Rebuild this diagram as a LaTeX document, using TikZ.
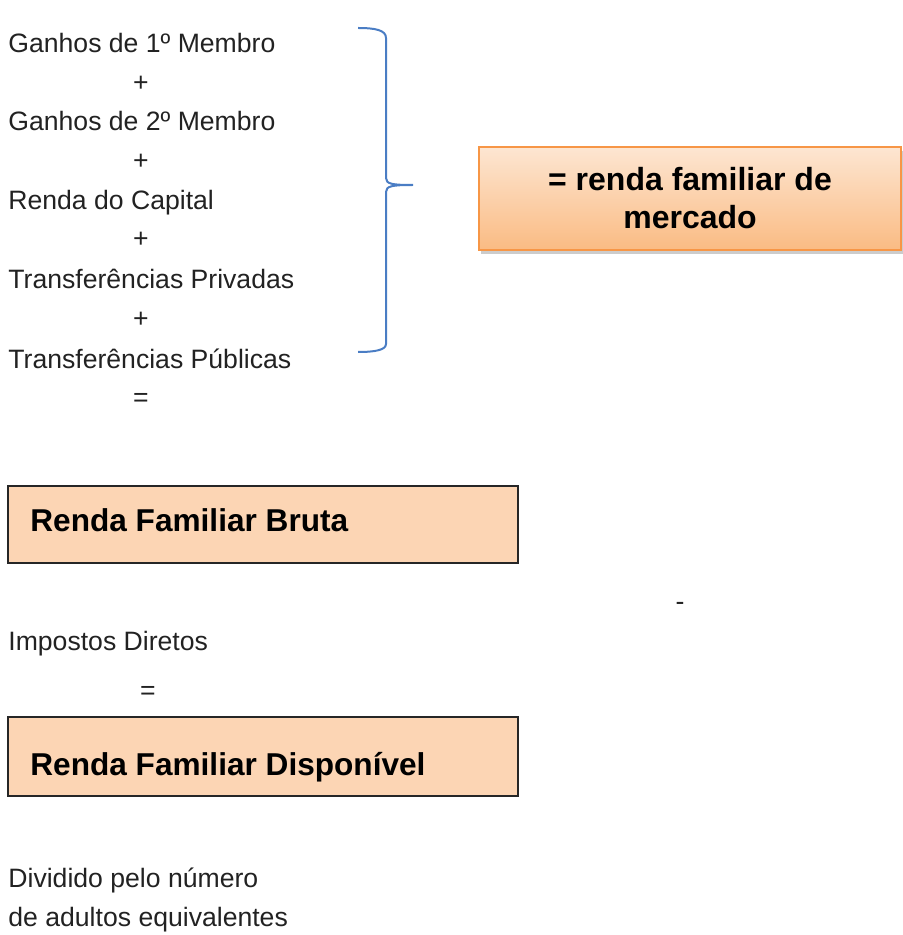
\documentclass[tikz,border=0pt]{standalone}
\usepackage{fontspec}
\setmainfont{Liberation Sans}
\usetikzlibrary{shadows}

\definecolor{boxfill}{HTML}{FCD5B4}
\definecolor{mktline}{HTML}{F79646}
\definecolor{mkttop}{HTML}{FDE6D2}
\definecolor{mktbot}{HTML}{FABB83}
\definecolor{braceblue}{HTML}{4A7DC4}
\definecolor{textgray}{HTML}{222222}

\begin{document}
\begin{tikzpicture}
[x=0.5pt,y=-0.5pt,
item/.style={anchor=base west,inner sep=0pt,text=textgray,font=\fontsize{13.3}{15}\selectfont},
sign/.style={inner sep=0pt,text=textgray,font=\fontsize{13.3}{15}\selectfont},
boxtext/.style={anchor=base west,inner sep=0pt,font=\bfseries\fontsize{15.8}{19}\selectfont},
total/.style={draw=black!85,line width=0.8pt,fill=boxfill},
market/.style={draw=mktline,line width=0.8pt,top color=mkttop,bottom color=mktbot,
  minimum width=211pt,minimum height=51.5pt,align=center,
  font=\bfseries\fontsize{16}{19}\selectfont,
  drop shadow={opacity=0.4,shadow xshift=1pt,shadow yshift=-2pt}},]

\useasboundingbox (0,0) rectangle (902,935);

%Left column
\node (g1) at (8,53)[item] {Ganhos de 1º Membro};
\node (p1) at (141,84)[sign] {+};
\node (g2) at (8,131)[item] {Ganhos de 2º Membro};
\node (p2) at (141,162)[sign] {+};
\node (cap) at (8,210)[item] {Renda do Capital};
\node (p3) at (141,240)[sign] {+};
\node (tpriv) at (8,289)[item] {Transferências Privadas};
\node (p4) at (141,320)[sign] {+};
\node (tpub) at (8,368)[item] {Transferências Públicas};
\node (e1) at (141,400)[sign] {=};

%Brace
\coordinate (btop) at (358,28);
\coordinate (btip) at (413,185);
\coordinate (bbot) at (358,352);
\draw[braceblue,line width=1pt] (btop) .. controls (375,28) and (386,30) .. (386,38)
  -- (386,178) .. controls (386,184) and (392,185) .. (btip)
  .. controls (392,185) and (386,186) .. (386,192)
  -- (386,344) .. controls (386,350) and (375,352) .. (bbot);

%Market income box
\node (mercado) at (690,198.5)[market] {\raisebox{-3pt}{= renda familiar de}\\\raisebox{-3pt}{mercado}};

%Gross income
\draw[total] (8,486) rectangle (518,563);
\node (bruta) at (30,531)[boxtext] {Renda Familiar Bruta};

\node (minus) at (680,606)[sign] {-};
\node (impostos) at (8,650)[item] {Impostos Diretos};
\node (e2) at (148,693)[sign] {=};

%Disposable income
\draw[total] (8,717) rectangle (518,796);
\node (disp) at (30,775)[boxtext] {Renda Familiar Disponível};

\node (div1) at (8,887)[item] {Dividido pelo número};
\node (div2) at (8,926)[item] {de adultos equivalentes};

\end{tikzpicture}
\end{document}
